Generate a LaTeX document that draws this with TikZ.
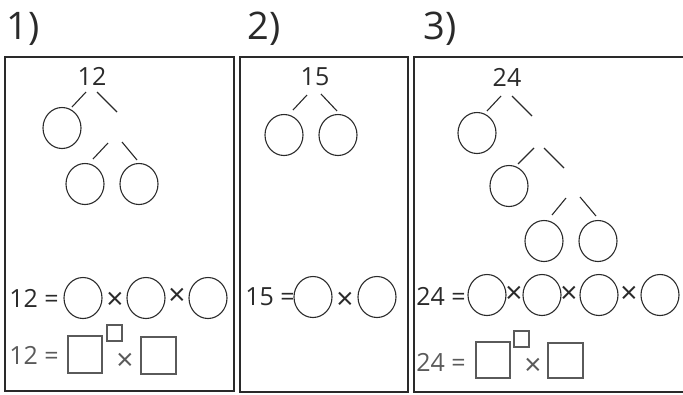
\documentclass[tikz,border=0pt]{standalone}
\usepackage{fontspec}
\setmainfont{Open Sans}
\usetikzlibrary{shapes.geometric}
\definecolor{ink}{HTML}{2A2A2A}
\definecolor{soft}{HTML}{5A5A5A}
\tikzset{
  frame/.style={draw=ink, line width=1.6pt},
  ell/.style={draw=ink, ellipse, line width=1.1pt, minimum width=38pt, minimum height=41pt, inner sep=0pt},
  branch/.style={draw=ink, line width=1.1pt},
  sq/.style={draw=soft, line width=1.1pt},
  lbl/.style={font=\fontsize{38}{40}\selectfont, text=ink, inner sep=0pt},
  num/.style={font=\fontsize{25}{27}\selectfont, text=ink, inner sep=0pt},
  gnum/.style={font=\fontsize{25}{27}\selectfont, text=soft, inner sep=0pt},
  tms/.style={font=\fontsize{30}{32}\selectfont, text=ink, inner sep=0pt},
  gtms/.style={font=\fontsize{30}{32}\selectfont, text=soft, inner sep=0pt}
}
\begin{document}
\begin{tikzpicture}[x=1pt,y=-1pt]
\useasboundingbox (0,0) rectangle (683,394);
% labels
\node[lbl] (l1) at (23,29) {1)};
\node[lbl] (l2) at (264,29) {2)};
\node[lbl] (l3) at (440,29) {3)};
% frames
\draw[frame] (5,57) rectangle (234,391);
\draw[frame] (240,57) rectangle (408,392);
\draw[frame] (683,57) -- (414,57) -- (414,392) -- (683,392);

% ---------- Box 1 tree
\node[num] (t1) at (92,76) {12};
\node[ell] (a1) at (62,128) {};
\node[ell] (a2) at (85,184) {};
\node[ell] (a3) at (139,184) {};
\draw[branch] (86,92) -- (72,107);
\draw[branch] (97,92) -- (117,112);
\draw[branch] (108,143) -- (93,159);
\draw[branch] (122,142) -- (137,160);

% Box 1 equations
\node[num] (e1) at (34,298) {12 =};
\node[ell] (b1) at (83,298) {};
\node[tms] (x1) at (115,301) {×};
\node[ell] (b2) at (146,298) {};
\node[tms] (x2) at (177,297) {×};
\node[ell] (b3) at (208,298) {};

\node[gnum] (f1) at (34,355) {12 =};
\draw[sq] (68,336) rectangle (102,373);
\draw[sq] (107,325) rectangle (122,341);
\node[gtms] (y1) at (125,362) {×};
\draw[sq] (141,337) rectangle (176,374);

% ---------- Box 2 tree
\node[num] (t2) at (315,77) {15};
\node[ell] (c1) at (284,135) {};
\node[ell] (c2) at (338,135) {};
\draw[branch] (307,95) -- (293,110);
\draw[branch] (321,94) -- (337,111);

\node[num] (e2) at (270,297) {15 =};
\node[ell] (d1) at (313,297) {};
\node[tms] (x3) at (345,301) {×};
\node[ell] (d2) at (377,297) {};

% ---------- Box 3 tree
\node[num] (t3) at (507,77) {24};
\node[ell] (g1) at (477,133) {};
\node[ell] (g2) at (509,186) {};
\node[ell] (g3) at (544,241) {};
\node[ell] (g4) at (598,241) {};
\draw[branch] (501,96) -- (487,111);
\draw[branch] (512,96) -- (532,116);
\draw[branch] (534,148) -- (518,164);
\draw[branch] (544,148) -- (564,168);
\draw[branch] (566,198) -- (552,215);
\draw[branch] (580,197) -- (596,216);

\node[num] (e3) at (441,296) {24 =};
\node[ell] (h1) at (487,295) {};
\node[tms] (x4) at (514,295) {×};
\node[ell] (h2) at (542,295) {};
\node[tms] (x5) at (569,295) {×};
\node[ell] (h3) at (599,295) {};
\node[tms] (x6) at (629,295) {×};
\node[ell] (h4) at (660,295) {};

\node[gnum] (f3) at (441,362) {24 =};
\draw[sq] (476,342) rectangle (510,378);
\draw[sq] (514,331) rectangle (529,347);
\node[gtms] (y3) at (533,367) {×};
\draw[sq] (548,343) rectangle (583,378);
\end{tikzpicture}
\end{document}
